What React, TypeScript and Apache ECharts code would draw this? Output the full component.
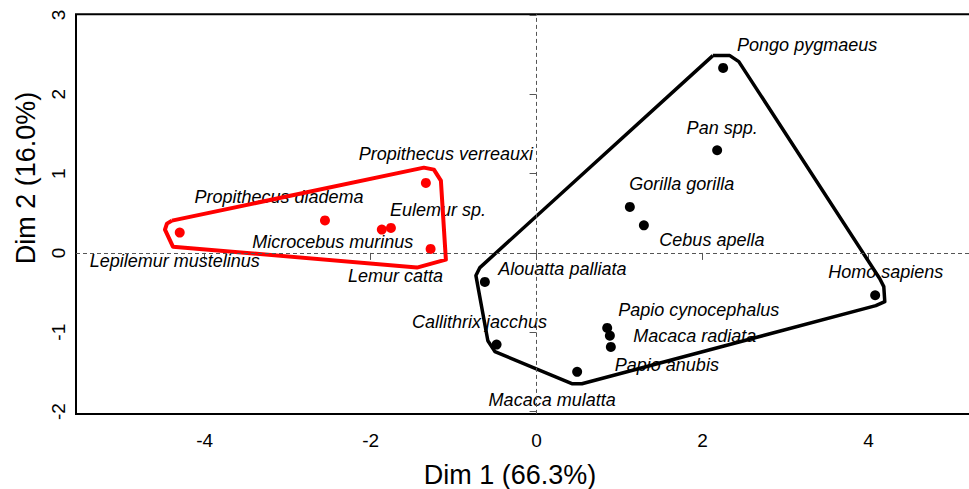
import React, { useEffect, useRef } from "react";
import * as echarts from "echarts";

// ---- data ----
const redNames = [
  "Lepilemur mustelinus",
  "Propithecus diadema",
  "Microcebus murinus",
  "Eulemur sp.",
  "Propithecus verreauxi",
  "Lemur catta",
];
const redX = [-4.3, -2.55, -1.865, -1.755, -1.334, -1.277];
const redY = [0.256, 0.41, 0.294, 0.315, 0.883, 0.05];

const blackNames = [
  "Pongo pygmaeus",
  "Pan spp.",
  "Gorilla gorilla",
  "Cebus apella",
  "Alouatta palliata",
  "Callithrix jacchus",
  "Macaca mulatta",
  "Papio cynocephalus",
  "Macaca radiata",
  "Papio anubis",
  "Homo sapiens",
];
const blackX = [2.248, 2.176, 1.124, 1.293, -0.623, -0.482, 0.489, 0.851, 0.883, 0.895, 4.08];
const blackY = [2.333, 1.294, 0.58, 0.348, -0.366, -1.156, -1.5, -0.946, -1.043, -1.185, -0.534];

// hull outlines (closed polygons)
const redHullX = [-4.394, -1.358, -1.237, -1.153, -1.093, -1.442, -4.382, -4.478, -4.454, -4.394];
const redHullY = [0.407, 1.075, 1.05, 0.912, -0.084, -0.185, 0.079, 0.294, 0.369, 0.407];

const blackHullX = [2.124, 2.329, 2.437, 4.136, 4.184, 4.196, 4.088, 0.546, 0.425, -0.502, -0.587, -0.731, -0.683, 2.124];
const blackHullY = [2.488, 2.488, 2.412, -0.325, -0.425, -0.614, -0.665, -1.649, -1.649, -1.245, -1.107, -0.286, -0.185, 2.488];

const xTicks = [-4, -2, 0, 2, 4];
const yTicks = [-2, -1, 0, 1, 2, 3];

const xTitle = "Dim 1 (66.3%)";
const yTitle = "Dim 2 (16.0%)";

// label placement (pixel offsets of label centre from point)
const labelOffsets: Record<string, [number, number]> = {
  "Lepilemur mustelinus": [-5, 28],
  "Propithecus diadema": [-46, -23.5],
  "Microcebus murinus": [-49, 12.5],
  "Eulemur sp.": [47, -18],
  "Propithecus verreauxi": [20, -29],
  "Lemur catta": [-35, 27],
  "Pongo pygmaeus": [84, -23],
  "Pan spp.": [5, -22],
  "Gorilla gorilla": [52, -23],
  "Cebus apella": [68, 15],
  "Alouatta palliata": [77.5, -13],
  "Callithrix jacchus": [-17, -22.5],
  "Macaca mulatta": [-25, 28.5],
  "Papio cynocephalus": [91.5, -17.5],
  "Macaca radiata": [85, 0.7],
  "Papio anubis": [56, 18],
  "Homo sapiens": [10.5, -23],
};

const FONT = "'Liberation Sans', Arial, Helvetica, sans-serif";

function pts(names: string[], xs: number[], ys: number[]) {
  return names.map((n, i) => ({
    name: n,
    value: [xs[i], ys[i]],
    label: { offset: labelOffsets[n] || [0, 0] },
  }));
}

export default function App() {
  const ref = useRef<HTMLDivElement>(null);
  useEffect(() => {
    if (!ref.current) return;
    const chart = echarts.init(ref.current, null, { renderer: "svg" });
    const labelStyle = {
      show: true,
      formatter: "{b}",
      position: "inside",
      color: "#000",
      opacity: 1,
      fontStyle: "italic",
      fontSize: 18,
      fontFamily: FONT,
      align: "center",
      verticalAlign: "middle",
    };
    chart.setOption({
      animation: false,
      backgroundColor: "#fff",
      grid: {
        left: 76,
        top: 14.2,
        width: 917,
        height: 399.7,
        show: true,
        borderColor: "#000",
        borderWidth: 2,
        backgroundColor: "transparent",
      },
      xAxis: {
        type: "value",
        min: -5.55,
        max: 5.5,
        splitLine: { show: false },
        axisLine: { show: false },
        axisTick: {
          show: true,
          length: 7,
          customValues: xTicks,
          lineStyle: { color: "#555", width: 1 },
        },
        axisLabel: {
          customValues: xTicks,
          fontSize: 19,
          color: "#000",
          fontFamily: FONT,
          margin: 17,
        },
      },
      yAxis: {
        type: "value",
        min: -2.03,
        max: 3.01,
        splitLine: { show: false },
        axisLine: { show: false },
        axisTick: {
          show: true,
          length: 7,
          customValues: yTicks,
          lineStyle: { color: "#555", width: 1 },
        },
        axisLabel: {
          customValues: yTicks,
          fontSize: 19,
          color: "#000",
          fontFamily: FONT,
          rotate: 90,
          margin: 8,
        },
      },
      graphic: [
        {
          type: "text",
          x: 510,
          y: 475,
          style: {
            text: xTitle,
            fontSize: 27,
            fontFamily: FONT,
            fill: "#000",
            align: "center",
            verticalAlign: "middle",
          },
        },
        {
          type: "text",
          x: 26,
          y: 178,
          rotation: Math.PI / 2,
          style: {
            text: yTitle,
            fontSize: 27,
            fontFamily: FONT,
            fill: "#000",
            align: "center",
            verticalAlign: "middle",
          },
        },
      ],
      series: [
        {
          type: "scatter",
          z: 1,
          symbolSize: 10,
          itemStyle: { color: "#ff0000", opacity: 1 },
          label: labelStyle,
          emphasis: { disabled: true },
          data: pts(redNames, redX, redY),
          markLine: {
            silent: true,
            symbol: ["none", "none"],
            label: { show: false },
            lineStyle: { type: [4, 3], color: "#555", width: 1 },
            data: [{ xAxis: 0 }, { yAxis: 0 }],
          },
        },
        {
          type: "scatter",
          z: 1,
          symbolSize: 10,
          itemStyle: { color: "#000", opacity: 1 },
          label: labelStyle,
          emphasis: { disabled: true },
          data: pts(blackNames, blackX, blackY),
        },
        {
          type: "line",
          z: 3,
          symbol: "none",
          lineStyle: { color: "#ff0000", width: 4, join: "round" },
          data: redHullX.map((x, i) => [x, redHullY[i]]),
        },
        {
          type: "line",
          z: 3,
          symbol: "none",
          lineStyle: { color: "#000", width: 3.5, join: "round" },
          data: blackHullX.map((x, i) => [x, blackHullY[i]]),
        },
      ],
    });
    return () => chart.dispose();
  }, []);
  return (
    <div
      style={{
        position: "fixed",
        left: 0,
        top: 0,
        width: 969,
        height: 489,
        overflow: "hidden",
        background: "#fff",
      }}
    >
      <div ref={ref} style={{ width: 1000, height: 489 }} />
    </div>
  );
}
